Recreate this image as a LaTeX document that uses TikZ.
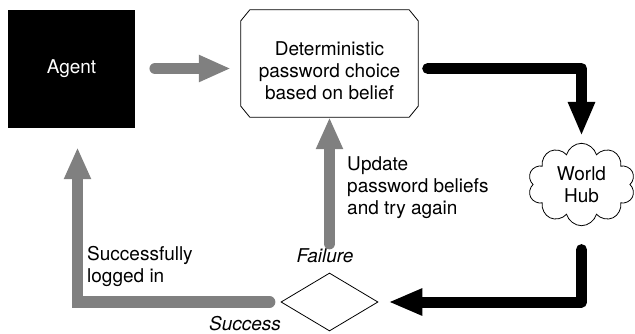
\documentclass[tikz,border=0pt]{standalone}
\usepackage{fontspec}
\setmainfont{TeX Gyre Heros}
\usetikzlibrary{arrows.meta,shapes.geometric,shapes.symbols}

\begin{document}
\begin{tikzpicture}[x=1pt,y=-1pt,
        every node/.style={font=\fontsize{19}{22}\selectfont},
        slanted/.style={font=\fontsize{19}{22}\selectfont\itshape},
        outline/.style={draw=black,line width=0.8pt},
        greyarrow/.style={draw=black!50,line width=11.5pt,line cap=round,-{Triangle[length=32pt,width=25pt]}},
        blackarrow/.style={draw=black,line width=11pt,line cap=round,line join=round,-{Triangle[length=34pt,width=25pt]}}]
        \useasboundingbox (0,0) rectangle (635,333);
        \node[fill=black,text=white,minimum width=127pt,minimum height=118pt] (agent) at (71.5,69) {Agent};
        \node[minimum width=177pt,minimum height=107pt,inner sep=0pt] (choice) at (329.5,63.5) {};
        \draw[outline] ([xshift=9pt]choice.north west) -- ([xshift=-9pt]choice.north east) -- ([yshift=-11pt]choice.north east) -- ([yshift=11pt]choice.south east) -- ([xshift=-9pt]choice.south east) -- ([xshift=9pt]choice.south west) -- ([yshift=11pt]choice.south west) -- ([yshift=-11pt]choice.north west) -- cycle;
        \node[anchor=north,align=center,inner sep=0pt] (choicetext) at (329.5,41.3) {Deterministic\\password choice\\based on belief};
        \node[cloud,outline,cloud puffs=10,minimum width=107pt,minimum height=75pt,inner sep=0pt,align=center] (hub) at (581.5,184.5) {World\\Hub};
        \node[diamond,outline,minimum width=97pt,minimum height=58pt,inner sep=0pt] (check) at (329.5,302) {};
        \node[anchor=north west,align=left,inner sep=0pt] (update) at (347,156.3) {Update\\password beliefs\\and try again};
        \node[anchor=north west,align=left,inner sep=0pt] (logged) at (87,246) {Successfully\\logged in};
        \node[slanted,anchor=base,inner sep=0pt] (failure) at (325,262) {Failure};
        \node[slanted,anchor=base,inner sep=0pt] (success) at (245,330) {Success};
        \draw[greyarrow] ([xshift=20pt,yshift=0.5pt]agent.east) -- ([xshift=-10pt,yshift=-5pt]choice.west);
        \draw[blackarrow] ([xshift=9.5pt,yshift=-5pt]choice.east) -| ([yshift=7pt]hub.north);
        \draw[blackarrow] ([yshift=-23.5pt]hub.south) |- ([xshift=10pt]check.east);
        \draw[greyarrow] ([yshift=29pt]check.north) -- (choice.south);
        \draw[greyarrow] ([xshift=-11pt]check.west) -| ([xshift=6pt,yshift=-19pt]agent.south);
    \end{tikzpicture}
\end{document}
